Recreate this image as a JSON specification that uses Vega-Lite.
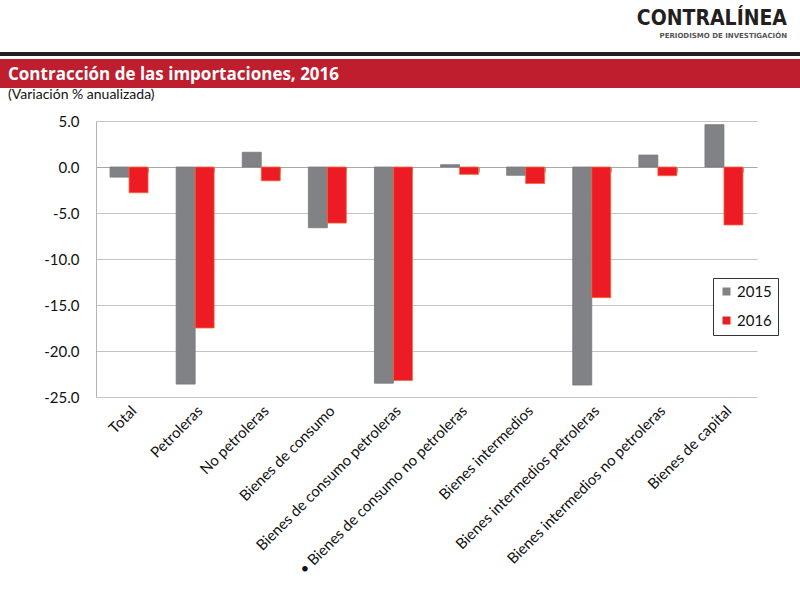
{
  "$schema": "https://vega.github.io/schema/vega-lite/v6.json",
  "padding": {"top": 8, "left": 0, "right": 0, "bottom": 0},
  "spacing": 0,
  "background": "white",
  "config": {
    "font": "Lato",
    "view": {"stroke": null},
    "concat": {"spacing": 0}
  },
  "datasets": {
    "imports": [
      {"cat": "Total", "year": "2015", "value": -1.1},
      {"cat": "Total", "year": "2016", "value": -2.8},
      {"cat": "Petroleras", "year": "2015", "value": -23.6},
      {"cat": "Petroleras", "year": "2016", "value": -17.5},
      {"cat": "No petroleras", "year": "2015", "value": 1.6},
      {"cat": "No petroleras", "year": "2016", "value": -1.5},
      {"cat": "Bienes de consumo", "year": "2015", "value": -6.6},
      {"cat": "Bienes de consumo", "year": "2016", "value": -6.1},
      {"cat": "Bienes de consumo petroleras", "year": "2015", "value": -23.5},
      {"cat": "Bienes de consumo petroleras", "year": "2016", "value": -23.2},
      {"cat": "• Bienes de consumo no petroleras", "year": "2015", "value": 0.25},
      {"cat": "• Bienes de consumo no petroleras", "year": "2016", "value": -0.8},
      {"cat": "Bienes intermedios", "year": "2015", "value": -0.9},
      {"cat": "Bienes intermedios", "year": "2016", "value": -1.8},
      {"cat": "Bienes intermedios petroleras", "year": "2015", "value": -23.7},
      {"cat": "Bienes intermedios petroleras", "year": "2016", "value": -14.2},
      {"cat": "Bienes intermedios no petroleras", "year": "2015", "value": 1.3},
      {"cat": "Bienes intermedios no petroleras", "year": "2016", "value": -0.95},
      {"cat": "Bienes de capital", "year": "2015", "value": 4.6},
      {"cat": "Bienes de capital", "year": "2016", "value": -6.3}
    ]
  },
  "vconcat": [
    {
      "width": 800,
      "height": 4,
      "view": {"fill": "#231f20", "stroke": null},
      "title": {
        "text": "CONTRALÍNEA",
        "subtitle": "PERIODISMO DE INVESTIGACIÓN",
        "anchor": "end",
        "frame": "group",
        "font": "DejaVu Sans Condensed",
        "fontSize": 21,
        "fontWeight": "bold",
        "color": "#231f20",
        "subtitleFont": "DejaVu Sans",
        "subtitleFontSize": 7,
        "subtitleFontWeight": "bold",
        "subtitleColor": "#555555",
        "subtitlePadding": 3,
        "offset": 15,
        "dx": -13,
        "dy": 6
      },
      "data": {"values": [{"k": 1}]},
      "mark": {"type": "text", "text": ""},
      "encoding": {}
    },
    {
      "width": 800,
      "height": 29,
      "view": {"fill": "#be1e2d", "stroke": null},
      "data": {"values": [{"label": "Contracción de las importaciones, 2016"}]},
      "mark": {
        "type": "text",
        "align": "left",
        "baseline": "middle",
        "dx": -392,
        "dy": 1,
        "font": "Open Sans",
        "fontWeight": "bold",
        "fontSize": 17,
        "color": "white"
      },
      "encoding": {"text": {"field": "label"}}
    },
    {
      "bounds": "flush",
      "spacing": 0,
      "hconcat": [
        {
          "width": 96,
          "height": 276,
          "data": {"values": [{"k": 1}]},
          "mark": {"type": "text", "text": ""},
          "encoding": {}
        },
        {
          "width": 661,
          "height": 276,
          "title": {
            "text": "(Variación % anualizada)",
            "anchor": "start",
            "frame": "group",
            "font": "Lato",
            "fontSize": 14,
            "fontWeight": "normal",
            "color": "#111111",
            "dx": -88,
            "dy": 6,
            "offset": 18
          },
          "data": {"name": "imports"},
          "layer": [
            {
              "mark": {"type": "bar", "strokeWidth": 0.8},
              "encoding": {
                "x": {
                  "field": "cat",
                  "type": "nominal",
                  "sort": null,
                  "scale": {"paddingInner": 0.425, "paddingOuter": 0.2125},
                  "axis": {
                    "title": null,
                    "orient": "bottom",
                    "labelAngle": -45,
                    "labelFontSize": 15,
                    "labelFont": "Lato",
                    "labelColor": "#111111",
                    "labelPadding": 6,
                    "ticks": false,
                    "domain": false,
                    "labelLimit": 400
                  }
                },
                "xOffset": {"field": "year", "type": "nominal", "scale": {"paddingInner": 0}},
                "y": {
                  "field": "value",
                  "type": "quantitative",
                  "scale": {"domain": [-25, 5], "nice": false, "zero": false},
                  "axis": {
                    "title": null,
                    "values": [-25, -20, -15, -10, -5, 0, 5],
                    "labelExpr": "replace(format(datum.value, '.1f'), '\u2212', '-')",
                    "labelFontSize": 15,
                    "labelFont": "Lato",
                    "labelColor": "#111111",
                    "labelPadding": 17,
                    "ticks": false,
                    "domainColor": "#b4b4b4",
                    "gridColor": "#c4c4c4"
                  }
                },
                "color": {
                  "field": "year",
                  "type": "nominal",
                  "scale": {"domain": ["2015", "2016"], "range": ["#808285", "#ed1c24"]},
                  "legend": {
                    "title": null,
                    "orient": "none",
                    "legendX": 713,
                    "legendY": 226,
                    "symbolType": "square",
                    "symbolSize": 64,
                    "symbolStrokeWidth": 0,
                    "labelFontSize": 15,
                    "labelFont": "Lato",
                    "labelColor": "#111111",
                    "strokeColor": "#333333",
                    "fillColor": "white",
                    "padding": 6,
                    "rowPadding": 13,
                    "labelOffset": 3
                  }
                },
                "stroke": {
                  "field": "year",
                  "type": "nominal",
                  "scale": {"domain": ["2015", "2016"], "range": ["#77787b", "#f46a3a"]},
                  "legend": null
                }
              }
            },
            {
              "mark": {"type": "bar", "opacity": 0},
              "encoding": {
                "x": {
                  "field": "cat",
                  "type": "nominal",
                  "sort": null,
                  "axis": {
                    "title": null,
                    "orient": "top",
                    "offset": -46,
                    "labels": false,
                    "ticks": true,
                    "tickBand": "extent",
                    "tickSize": -5,
                    "tickColor": "#a8a8a8",
                    "domain": true,
                    "domainColor": "#a8a8a8",
                    "grid": false
                  }
                },
                "xOffset": {"field": "year", "type": "nominal"},
                "y": {"field": "value", "type": "quantitative"}
              }
            }
          ],
          "resolve": {"axis": {"x": "independent"}}
        }
      ]
    }
  ]
}
